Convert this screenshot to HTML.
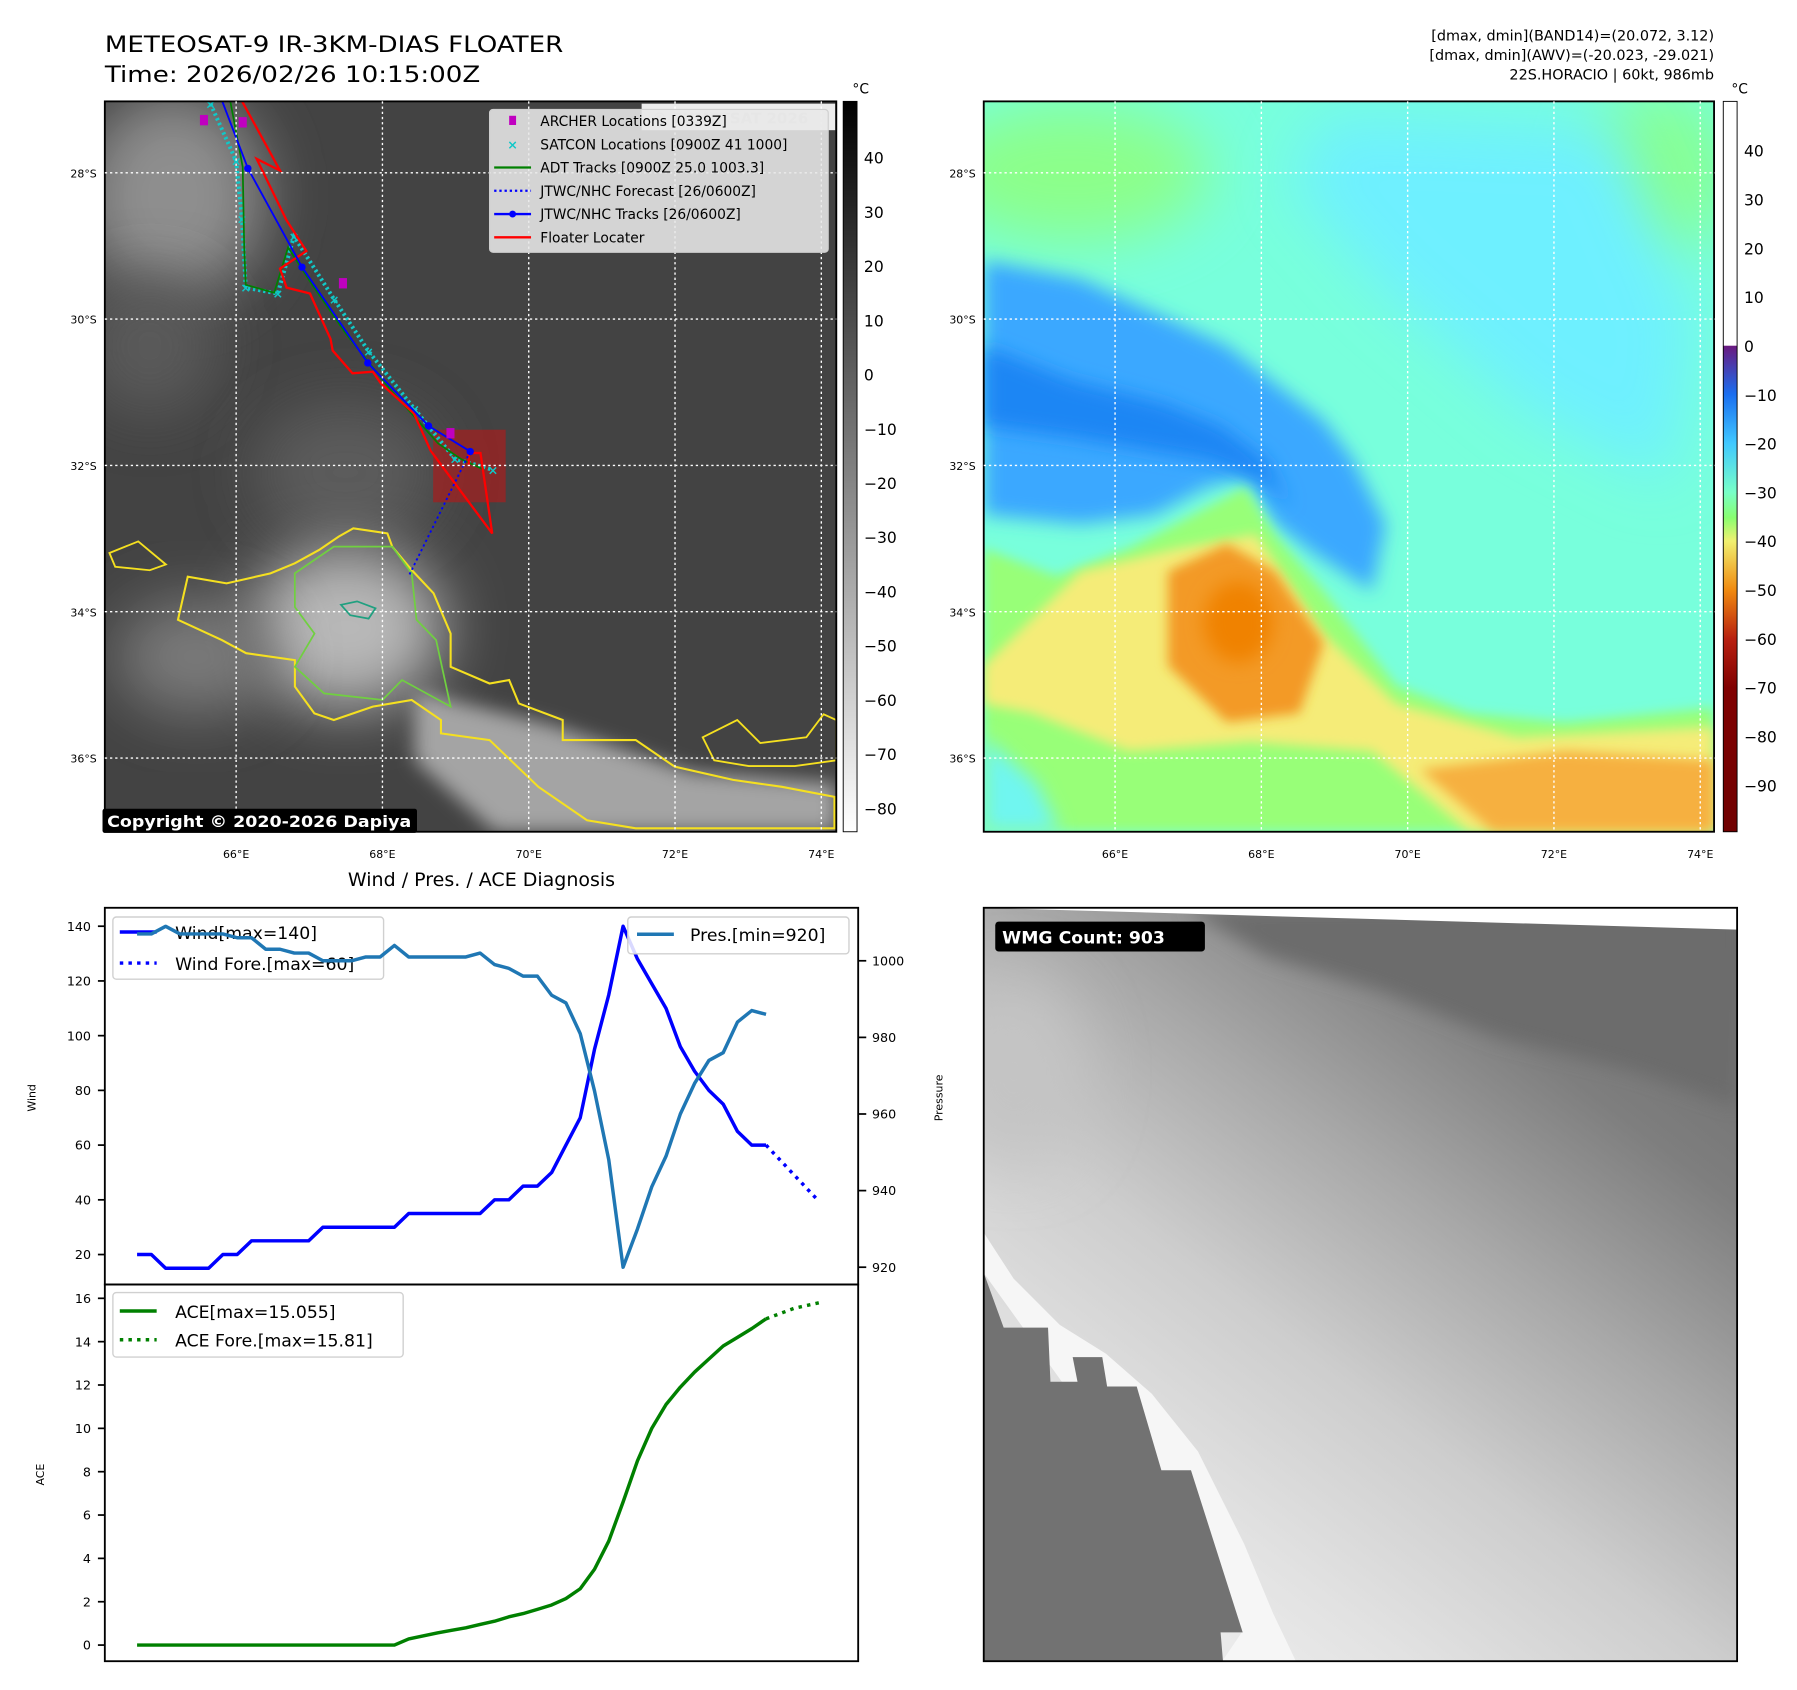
<!DOCTYPE html>
<html><head><meta charset="utf-8"><title>METEOSAT-9 floater</title>
<style>
html,body{margin:0;padding:0;background:#fff;}
svg{display:block;font-family:"DejaVu Sans","Liberation Sans",sans-serif;}
</style></head>
<body>
<svg id="root" xmlns="http://www.w3.org/2000/svg" width="1797" height="1690" viewBox="0 0 1560 1467" preserveAspectRatio="none">
<defs>
  <filter id="blur8" x="-30%" y="-30%" width="160%" height="160%"><feGaussianBlur stdDeviation="8"/></filter>
  <filter id="blur4" x="-30%" y="-30%" width="160%" height="160%"><feGaussianBlur stdDeviation="5"/></filter>
  <filter id="blur16" x="-50%" y="-50%" width="200%" height="200%"><feGaussianBlur stdDeviation="26"/></filter>
  <clipPath id="clipMap1"><rect x="91" y="88" width="635" height="634"/></clipPath>
  <clipPath id="clipMap2"><rect x="854" y="88" width="634" height="634"/></clipPath>
  <clipPath id="clipBR"><rect x="854" y="788" width="654" height="654"/></clipPath>
  <linearGradient id="cb1" x1="0" y1="0" x2="0" y2="1"><stop offset="0" stop-color="#000"/><stop offset="1" stop-color="#fff"/></linearGradient>
  <linearGradient id="cb2" x1="0" y1="0" x2="0" y2="1">
    <stop offset="0" stop-color="#ffffff"/><stop offset="0.334" stop-color="#ffffff"/>
    <stop offset="0.335" stop-color="#6a1a80"/><stop offset="0.401" stop-color="#1a6ef0"/>
    <stop offset="0.468" stop-color="#40c8ff"/><stop offset="0.535" stop-color="#78ffc8"/>
    <stop offset="0.57" stop-color="#88ff70"/><stop offset="0.602" stop-color="#f0f070"/>
    <stop offset="0.669" stop-color="#f08a10"/><stop offset="0.736" stop-color="#b82010"/>
    <stop offset="0.803" stop-color="#800000"/><stop offset="1" stop-color="#700000"/>
  </linearGradient>
  <linearGradient id="brGrad" x1="1" y1="0" x2="0.25" y2="1">
    <stop offset="0" stop-color="#686868"/><stop offset="0.25" stop-color="#7e7e7e"/>
    <stop offset="0.45" stop-color="#a8a8a8"/><stop offset="0.65" stop-color="#cdcdcd"/>
    <stop offset="0.85" stop-color="#e2e2e2"/><stop offset="1" stop-color="#eeeeee"/>
  </linearGradient>
</defs>

<text x="91" y="45" font-size="19.5" textLength="398" lengthAdjust="spacingAndGlyphs">METEOSAT-9 IR-3KM-DIAS FLOATER</text>
<text x="91" y="71" font-size="19.5" textLength="326" lengthAdjust="spacingAndGlyphs">Time: 2026/02/26 10:15:00Z</text>
<text x="1488" y="35" font-size="12.5" text-anchor="end">[dmax, dmin](BAND14)=(20.072, 3.12)</text>
<text x="1488" y="52" font-size="12.5" text-anchor="end">[dmax, dmin](AWV)=(-20.023, -29.021)</text>
<text x="1488" y="69" font-size="12.5" text-anchor="end">22S.HORACIO | 60kt, 986mb</text>

<g id="map1" clip-path="url(#clipMap1)">
  <rect x="91" y="88" width="635" height="634" fill="#434343"/>
  <ellipse cx="150" cy="170" rx="80" ry="90" fill="#8e8e8e" filter="url(#blur16)"/>
  <ellipse cx="130" cy="300" rx="60" ry="60" fill="#5a5a5a" filter="url(#blur16)"/>
  <ellipse cx="300" cy="410" rx="80" ry="60" fill="#5c5c5c" filter="url(#blur16)"/>
  <ellipse cx="300" cy="545" rx="85" ry="70" fill="#b8b8b8" filter="url(#blur16)"/>
  <ellipse cx="170" cy="570" rx="70" ry="50" fill="#7a7a7a" filter="url(#blur16)"/>
  <polygon points="360,600 480,630 600,670 726,680 726,722 430,722 360,660" fill="#a4a4a4" filter="url(#blur8)"/>
  <polygon fill="none" stroke="#f5e020" stroke-width="1.8" points="154.5,538 163,500.6 196.7,506.4 234.8,497.7 255.9,489 277,477.4 294,465.8 306.7,458.6 336.3,463 340.5,474.5 357.4,494.8 376.4,515 391.2,550 391.2,578.8 425,593.3 442,590.3 450.4,610.6 488.5,625 488.5,642.4 551.9,642.4 585.7,665.5 636.4,677 678.7,683 724.4,691.7 724.4,719 551.9,719 509.6,712 467.4,683 425,642.4 382.8,636.6 382.8,625 357.4,607.6 323.6,613.4 289.8,625 272.9,619.2 256,596 256,573 213.7,567 192.6,555.6"/>
  <polygon fill="none" stroke="#f5e020" stroke-width="1.6" points="95,480 120,470 144,490 130,495 100,492"/>
  <polygon fill="none" stroke="#f5e020" stroke-width="1.6" points="610,640 640,625 660,645 700,640 715,620 726,625 726,660 690,665 650,665 620,660"/>
  <polygon fill="none" stroke="#70d040" stroke-width="1.5" points="255.9,497.7 289.8,474.5 340.5,474.5 357.4,497.7 361.6,538 378.6,555.6 391.2,613.4 349,590.3 332,607.6 281.3,601.9 256,578.8 273,550 256,527"/>
  <polygon fill="none" stroke="#20a080" stroke-width="1.5" points="296,525 310,522 326,528 320,537 304,534"/>
  <rect x="376" y="373" width="63" height="63" fill="#a02020" fill-opacity="0.75"/>
  <g id="tracks"></g>
</g>
<rect x="91" y="88" width="635" height="634" fill="none" stroke="#000" stroke-width="1.6"/>
<g id="map1grid"></g>
<rect x="557" y="90" width="168" height="23" fill="#fff" fill-opacity="0.9"/>
<text x="566" y="107" font-size="13" font-weight="bold" fill="#d0d0d0">© EUMETSAT 2026</text>
<g id="map1legend">
  <rect x="425" y="95" width="294" height="124" rx="3" fill="#e8e8e8" fill-opacity="0.88" stroke="#cfcfcf"/>
</g>
<rect x="89" y="702" width="273" height="21" rx="2" fill="#000"/>
<text x="93" y="718" font-size="13.5" font-weight="bold" fill="#fff" textLength="264" lengthAdjust="spacingAndGlyphs">Copyright © 2020-2026 Dapiya</text>
<rect x="732" y="88" width="12" height="634" fill="url(#cb1)" stroke="#000" stroke-width="0.8"/>
<text x="740" y="81" font-size="12">°C</text>
<g id="cb1ticks"></g>

<g id="map2" clip-path="url(#clipMap2)">
  <rect x="854" y="88" width="634" height="634" fill="#78ffdc"/>
  <ellipse cx="930" cy="150" rx="120" ry="60" fill="#8cff8a" filter="url(#blur16)"/>
  <ellipse cx="1440" cy="150" rx="60" ry="70" fill="#88ff90" filter="url(#blur16)"/>
  <polygon points="1150,100 1400,110 1470,280 1450,420 1330,360 1200,250 1120,160" fill="#6ef0ff" filter="url(#blur16)"/>
  <polygon points="854,447 938,455 1002,447 1048,423 1081,414 1107,455 1140,480 1191,513 1203,455 1174,398 1149,365 1107,333 1065,300 1002,271 938,242 854,226" fill="#3aa8ff" filter="url(#blur8)"/>
  <polygon points="854,300 930,330 1010,350 1060,370 1100,400 1120,440 1100,420 1050,400 990,390 930,380 854,370" fill="#1f86f4" filter="url(#blur8)"/>
  <polygon points="854,476 917,500 980,476 1035,447 1081,423 1107,464 1149,513 1212,595 1275,619 1359,627 1481,615 1488,615 1488,722 854,722" fill="#98ff78" filter="url(#blur4)"/>
  <polygon points="854,578 896,537 938,496 1022,476 1090,464 1149,550 1212,611 1317,640 1488,631 1488,722 1275,722 1191,652 1086,644 980,652 896,619 854,611" fill="#f5ec78" filter="url(#blur4)"/>
  <polygon points="1014,496 1065,472 1107,496 1149,558 1128,619 1065,627 1014,578" fill="#f39a28" filter="url(#blur4)"/>
  <ellipse cx="1075" cy="540" rx="30" ry="35" fill="#f08200" filter="url(#blur8)"/>
  <polygon points="1233,668 1359,652 1488,660 1488,722 1296,722" fill="#f6b040" filter="url(#blur4)"/>
  <polygon points="854,640 900,680 920,722 854,722" fill="#70f6f0" filter="url(#blur8)"/>
</g>
<rect x="854" y="88" width="634" height="634" fill="none" stroke="#000" stroke-width="1.6"/>
<g id="map2grid"></g>
<rect x="1496" y="88" width="12" height="634" fill="url(#cb2)" stroke="#000" stroke-width="0.8"/>
<text x="1503" y="81" font-size="12">°C</text>
<g id="cb2ticks"></g>

<text x="418" y="769" font-size="16.5" text-anchor="middle">Wind / Pres. / ACE Diagnosis</text>
<rect x="91" y="788" width="654" height="327" fill="#fff"/>
<rect x="91" y="1115" width="654" height="327" fill="#fff"/>
<g id="windLegendBox">
  <rect x="98" y="796" width="235" height="54" rx="3" fill="#fff" fill-opacity="0.85" stroke="#d0d0d0" stroke-width="1.2"/>
  <line x1="104" y1="809" x2="136" y2="809" stroke="#0000ff" stroke-width="3"/>
  <text x="152" y="815" font-size="15">Wind[max=140]</text>
  <line x1="104" y1="836" x2="136" y2="836" stroke="#0000ff" stroke-width="3" stroke-dasharray="3,4.5"/>
  <text x="152" y="842" font-size="15">Wind Fore.[max=60]</text>
</g>
<g id="chart"></g>
<g id="presLegend">
  <rect x="545" y="796" width="192" height="32" rx="3" fill="#fff" fill-opacity="0.85" stroke="#d0d0d0" stroke-width="1.2"/>
  <line x1="553" y1="811" x2="585" y2="811" stroke="#1f77b4" stroke-width="3"/>
  <text x="599" y="817" font-size="15">Pres.[min=920]</text>
</g>
<g id="aceLegend">
  <rect x="98" y="1122" width="252" height="56" rx="3" fill="#fff" fill-opacity="0.85" stroke="#d0d0d0" stroke-width="1.2"/>
  <line x1="104" y1="1138" x2="136" y2="1138" stroke="#008000" stroke-width="3"/>
  <text x="152" y="1144" font-size="15">ACE[max=15.055]</text>
  <line x1="104" y1="1163" x2="136" y2="1163" stroke="#008000" stroke-width="3" stroke-dasharray="3,4.5"/>
  <text x="152" y="1169" font-size="15">ACE Fore.[max=15.81]</text>
</g>
<rect x="91" y="788" width="654" height="327" fill="none" stroke="#000" stroke-width="1.6"/>
<rect x="91" y="1115" width="654" height="327" fill="none" stroke="#000" stroke-width="1.6"/>
<text transform="translate(31,953) rotate(-90)" font-size="9.5" text-anchor="middle">Wind</text>
<text transform="translate(818,953) rotate(-90)" font-size="9.5" text-anchor="middle">Pressure</text>
<text transform="translate(38,1280) rotate(-90)" font-size="9.5" text-anchor="middle">ACE</text>

<g clip-path="url(#clipBR)">
  <rect x="854" y="788" width="654" height="654" fill="url(#brGrad)"/>
  <polygon points="1030,788 1508,788 1508,960 1420,930 1300,900 1200,860 1100,830" fill="#6c6c6c" filter="url(#blur8)"/>
  <ellipse cx="880" cy="930" rx="60" ry="80" fill="#c4c4c4" filter="url(#blur16)"/>
  <polygon points="854,1070 880,1110 920,1150 960,1175 1000,1210 1040,1260 1080,1340 1105,1400 1125,1442 1061,1442 1078,1417 854,1105" fill="#f6f6f6"/>
  <polygon points="854.2,1105.5 871.3,1152.4 909.8,1152.4 911.9,1199.4 935.4,1199.4 931.2,1178 956.9,1178 961.1,1203.6 986.8,1203.6 1008.2,1276.2 1033.9,1276.2 1078.8,1417 1059.6,1417 1061.7,1442 854.2,1442" fill="#727272"/>
  <polygon points="854,786 1510,786 1510,807 854,788" fill="#fff"/>
</g>
<rect x="854" y="788" width="654" height="654" fill="none" stroke="#000" stroke-width="1.6"/>
<rect x="864" y="800" width="182" height="26" rx="3" fill="#000"/>
<text x="870" y="819" font-size="15" font-weight="bold" fill="#fff">WMG Count: 903</text>
</svg>

<script>
const windVals = [20,20,15,15,15,15,20,20,25,25,25,25,25,30,30,30,30,30,30,35,35,35,35,35,35,40,40,45,45,50,60,70,95,115,140,128,119,110,96,87,80,75,65,60,60];
const presVals = [1007,1007,1009,1007,1007,1007,1007,1006,1006,1003,1003,1002,1002,1000,1000,1000,1001,1001,1004,1001,1001,1001,1001,1001,1002,999,998,996,996,991,989,981,966,948,920,930,941,949,960,968,974,976,984,987,986];
const aceVals = [0,0,0,0,0,0,0,0,0,0,0,0,0,0,0,0,0,0,0,0.28,0.42,0.56,0.68,0.8,0.95,1.1,1.3,1.45,1.65,1.85,2.15,2.6,3.5,4.8,6.6,8.5,10,11.1,11.9,12.6,13.2,13.8,14.2,14.6,15.055];
const windForeIdx = [44,45.8,47.6];
const windFore = [60,50,40];
const aceForeIdx = [44,46,47.8];
const aceFore = [15.055,15.55,15.81];
const windTicks = [20,40,60,80,100,120,140];
const presTicks = [920,940,960,980,1000];
const aceTicks = [0,2,4,6,8,10,12,14,16];
const lonTicks = [66,68,70,72,74];
const latTicks = [28,30,32,34,36];
const ir_cbTicks = [40,30,20,10,0,-10,-20,-30,-40,-50,-60,-70,-80];
const awv_cbTicks = [40,30,20,10,0,-10,-20,-30,-40,-50,-60,-70,-80,-90];
const jtwcLon = [65.81,66.16,66.90,67.80,68.63,69.20];
const jtwcLat = [27.02,27.94,29.29,30.60,31.46,31.81];
const foreLon = [69.20,68.36];
const foreLat = [31.81,33.51];
const archerLon = [65.56,66.09,67.46,68.93];
const archerLat = [27.28,27.31,29.51,31.56];
const floaterLon = [66.08,66.60,66.28,66.69,66.96,66.60,66.69,67.01,67.29,67.32,67.59,67.87,67.98,68.43,68.66,69.50,69.34,69.18,69.18];
const floaterLat = [27.02,27.97,27.81,28.65,29.07,29.31,29.57,29.65,30.27,30.43,30.74,30.72,30.88,31.29,31.80,32.93,31.83,31.83,32.00];
const adtLon = [65.92,66.09,66.11,66.13,66.52,66.71,67.02,67.50,68.13,68.76,69.07,69.39];
const adtLat = [27.02,27.92,29.02,29.53,29.64,29.02,29.50,30.20,30.99,31.70,31.91,32.06];
const satconLon = [65.65,66.0,66.08,66.13,66.57,66.79,67.34,67.81,68.44,68.99,69.51];
const satconLat = [27.06,27.84,28.63,29.57,29.65,28.87,29.73,30.44,31.23,31.91,32.06];

const NS = 'http://www.w3.org/2000/svg';
function mk(tag, attrs, parent){
  const e = document.createElementNS(NS, tag);
  for (const k in attrs) e.setAttribute(k, attrs[k]);
  parent.appendChild(e);
  return e;
}
const xI = i => 119 + i * 12.41;
const yW = v => 1089 - (v - 20) * 2.375;
const yP = p => 1100 - (p - 920) * 3.325;
const yA = v => 1428 - v * 18.8125;
const lonX1 = lon => 205 + (lon - 66) * 63.5;
const latY = lat => 150 + (lat - 28) * 63.5;
const cb1Y = v => 137 + (40 - v) * 4.708;
const cb2Y = v => 131 + (40 - v) * 4.238;
const pts = (xs, ys, fx, fy) => xs.map((x, i) => fx(x).toFixed(1) + ',' + fy(ys[i]).toFixed(1)).join(' ');
const idx = n => Array.from({length: n}, (_, i) => i);

const chart = document.getElementById('chart');
windTicks.forEach(t => {
  const l = mk('line', {x1: 85, x2: 91, y1: yW(t), y2: yW(t), stroke: '#000', 'stroke-width': 1.5}, chart);
  
  
  const tx = mk('text', {x: 79, y: yW(t) + 4, 'font-size': 11, 'text-anchor': 'end'}, chart);
  
  
  tx.textContent = t;
});
presTicks.forEach(t => {
  const l = mk('line', {x1: 745, x2: 752, y1: yP(t), y2: yP(t), stroke: '#000', 'stroke-width': 1.5}, chart);
  
  
  const tx = mk('text', {x: 757, y: yP(t) + 4, 'font-size': 11}, chart);
  
  
  tx.textContent = t;
});
aceTicks.forEach(t => {
  const l = mk('line', {x1: 85, x2: 91, y1: yA(t), y2: yA(t), stroke: '#000', 'stroke-width': 1.5}, chart);
  
  
  const tx = mk('text', {x: 79, y: yA(t) + 4, 'font-size': 11, 'text-anchor': 'end'}, chart);
  
  
  tx.textContent = t;
});
const windLine = mk('polyline', {points: pts(idx(windVals.length), windVals, xI, yW), fill: 'none', stroke: '#0000ff', 'stroke-width': 3, 'stroke-linejoin': 'round'}, chart);


const windForeLine = mk('polyline', {points: pts(windForeIdx, windFore, xI, yW), fill: 'none', stroke: '#0000ff', 'stroke-width': 3, 'stroke-dasharray': '3,4.5'}, chart);


const presLine = mk('polyline', {points: pts(idx(presVals.length), presVals, xI, yP), fill: 'none', stroke: '#1f77b4', 'stroke-width': 3, 'stroke-linejoin': 'round'}, chart);


const aceLine = mk('polyline', {points: pts(idx(aceVals.length), aceVals, xI, yA), fill: 'none', stroke: '#008000', 'stroke-width': 3, 'stroke-linejoin': 'round'}, chart);


const aceForeLine = mk('polyline', {points: pts(aceForeIdx, aceFore, xI, yA), fill: 'none', stroke: '#008000', 'stroke-width': 3, 'stroke-dasharray': '3,4.5'}, chart);



function grid(gid, x0, xOff) {
  const g = document.getElementById(gid);
  lonTicks.forEach(lon => {
    const x = lonX1(lon) + xOff;
    const l = mk('line', {x1: x, x2: x, y1: 88, y2: 722, stroke: '#fff', 'stroke-width': 1.2, 'stroke-dasharray': '2,2.5'}, g);
    
    
    const t = mk('text', {x: x, y: 745, 'font-size': 9.5, 'text-anchor': 'middle'}, g);
    
    
    t.textContent = lon + '°E';
  });
  latTicks.forEach(lat => {
    const y = latY(lat);
    const l = mk('line', {x1: x0, x2: x0 + 635, y1: y, y2: y, stroke: '#fff', 'stroke-width': 1.2, 'stroke-dasharray': '2,2.5'}, g);
    
    
    const t = mk('text', {x: x0 - 7, y: y + 4, 'font-size': 9.5, 'text-anchor': 'end'}, g);
    
    
    t.textContent = lat + '°S';
  });
}
grid('map1grid', 91, 0);
grid('map2grid', 854, 763);

const cb1 = document.getElementById('cb1ticks');
ir_cbTicks.forEach(v => {
  const t = mk('text', {x: 750, y: cb1Y(v) + 5, 'font-size': 13.5}, cb1);
  
  
  t.textContent = v < 0 ? '\u2212' + (-v) : v;
});
const cb2 = document.getElementById('cb2ticks');
awv_cbTicks.forEach(v => {
  const t = mk('text', {x: 1514, y: cb2Y(v) + 5, 'font-size': 13.5}, cb2);
  
  
  t.textContent = v < 0 ? '\u2212' + (-v) : v;
});

const tr = document.getElementById('tracks');
const sat = mk('polyline', {points: pts(satconLon, satconLat, lonX1, latY), fill: 'none', stroke: '#10c8c8', 'stroke-width': 3.5, 'stroke-dasharray': '2,2.5'}, tr);


satconLon.forEach((lon, i) => {
  const m = mk('text', {x: lonX1(lon), y: latY(satconLat[i]) + 4, 'font-size': 11, 'font-weight': 'bold', fill: '#10c8c8', 'text-anchor': 'middle'}, tr);
  
  
  m.textContent = '×';
});
const adt = mk('polyline', {points: pts(adtLon, adtLat, lonX1, latY), fill: 'none', stroke: '#008000', 'stroke-width': 1.5}, tr);


const flo = mk('polyline', {points: pts(floaterLon, floaterLat, lonX1, latY), fill: 'none', stroke: '#ff0000', 'stroke-width': 2}, tr);


const fc = mk('polyline', {points: pts(foreLon, foreLat, lonX1, latY), fill: 'none', stroke: '#0000ff', 'stroke-width': 1.6, 'stroke-dasharray': '2,2.5'}, tr);


const jt = mk('polyline', {points: pts(jtwcLon, jtwcLat, lonX1, latY), fill: 'none', stroke: '#0000ff', 'stroke-width': 1.6}, tr);


jtwcLon.forEach((lon, i) => {
  if (i === 0) return;
  const c = mk('circle', {cx: lonX1(lon), cy: latY(jtwcLat[i]), r: 3.2, fill: '#0000ff'}, tr);
  
  
});
archerLon.forEach((lon, i) => {
  const r = mk('rect', {x: lonX1(lon) - 3.5, y: latY(archerLat[i]) - 4.5, width: 7, height: 9, fill: '#c000c0'}, tr);
  
  
});

const lg = document.getElementById('map1legend');
const legItems = ['ARCHER Locations [0339Z]','SATCON Locations [0900Z 41 1000]','ADT Tracks [0900Z 25.0 1003.3]','JTWC/NHC Forecast [26/0600Z]','JTWC/NHC Tracks [26/0600Z]','Floater Locater'];
const legNames = ['archer','satcon','adt','jtwc-forecast','jtwc-tracks','floater'];
legItems.forEach((s, i) => {
  const y = 105 + i * 20.2;
  let m;
  if (i === 0) m = mk('rect', {x: 442, y: y - 4.5, width: 6, height: 8, fill: '#c000c0'}, lg);
  else if (i === 1) { m = mk('text', {x: 445, y: y + 4, 'font-size': 11, 'font-weight': 'bold', fill: '#10c8c8', 'text-anchor': 'middle'}, lg); m.textContent = '×'; }
  else if (i === 2) m = mk('line', {x1: 429, x2: 461, y1: y, y2: y, stroke: '#008000', 'stroke-width': 2}, lg);
  else if (i === 3) m = mk('line', {x1: 429, x2: 461, y1: y, y2: y, stroke: '#0000ff', 'stroke-width': 2, 'stroke-dasharray': '2,2.5'}, lg);
  else if (i === 4) { m = mk('line', {x1: 429, x2: 461, y1: y, y2: y, stroke: '#0000ff', 'stroke-width': 2}, lg); const c = mk('circle', {cx: 445, cy: y, r: 3, fill: '#0000ff'}, lg);   }
  else m = mk('line', {x1: 429, x2: 461, y1: y, y2: y, stroke: '#ff0000', 'stroke-width': 2}, lg);
  
  
  const t = mk('text', {x: 469, y: y + 4.5, 'font-size': 12}, lg);
  
  
  t.textContent = s;
});
</script>
</body></html>
